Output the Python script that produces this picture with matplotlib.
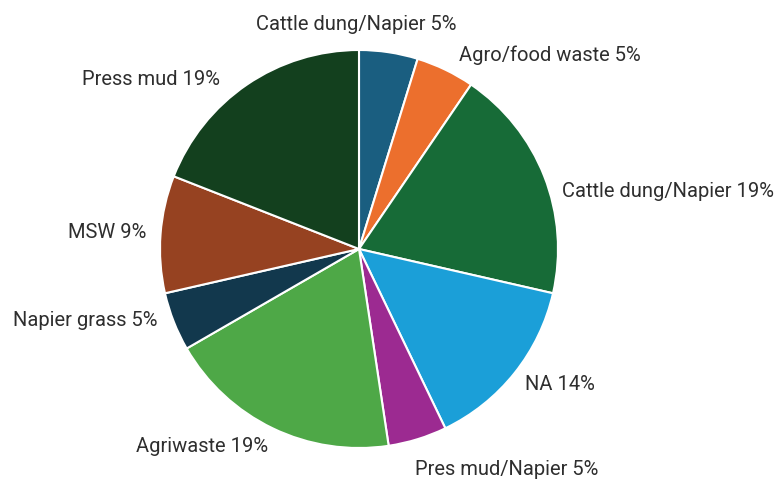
import matplotlib.pyplot as plt
import numpy as np

# Data
labels = ["Cattle dung/Napier", "Agro/food waste", "Cattle dung/Napier", "NA",
          "Pres mud/Napier", "Agriwaste", "Napier grass", "MSW", "Press mud"]
counts = [1, 1, 4, 3, 1, 4, 1, 2, 4]
pct_labels = ["5%", "5%", "19%", "14%", "5%", "19%", "5%", "9%", "19%"]
colors = ["#1a5e80", "#ec6f2d", "#176b37", "#1b9fd8", "#9c2a91",
          "#4ea847", "#12384d", "#964221", "#13401e"]

plt.rcParams['font.family'] = ['Roboto', 'DejaVu Sans']

fig = plt.figure(figsize=(7.76, 4.8), dpi=100)
# pie centre at (359, 249) px, radius 199 px
cx, cy, r = 359, 249, 199
ax = fig.add_axes([(cx - r) / 776, (480 - cy - r) / 480, 2 * r / 776, 2 * r / 480])

wedges, _ = ax.pie(counts, colors=colors, startangle=90, counterclock=False,
                   wedgeprops=dict(edgecolor="white", linewidth=1.5))
ax.set_xlim(-1, 1)
ax.set_ylim(-1, 1)
ax.set_aspect("equal")
ax.axis("off")

# small nudges (in radius units) so labels sit like the original
nudge = [(-0.18, 0.02), (0.015, -0.035), (-0.02, -0.12), (-0.04, 0.015), (-0.05, -0.04),
         (0.03, 0.015), (0.03, 0.05), (0.05, 0.0), (-0.07, -0.075)]

for w, name, pct, (dx, dy) in zip(wedges, labels, pct_labels, nudge):
    ang = np.deg2rad((w.theta1 + w.theta2) / 2)
    x = 1.12 * np.cos(ang) + dx
    y = 1.12 * np.sin(ang) + dy
    if abs(np.cos(ang)) < 0.2:
        ha = "center"
    elif np.cos(ang) > 0:
        ha = "left"
    else:
        ha = "right"
    ax.text(x, y, f"{name} {pct}", ha=ha, va="center", fontsize=14.5,
            color="#2e2e2e", clip_on=False)

fig.savefig("out.png", dpi=100)
